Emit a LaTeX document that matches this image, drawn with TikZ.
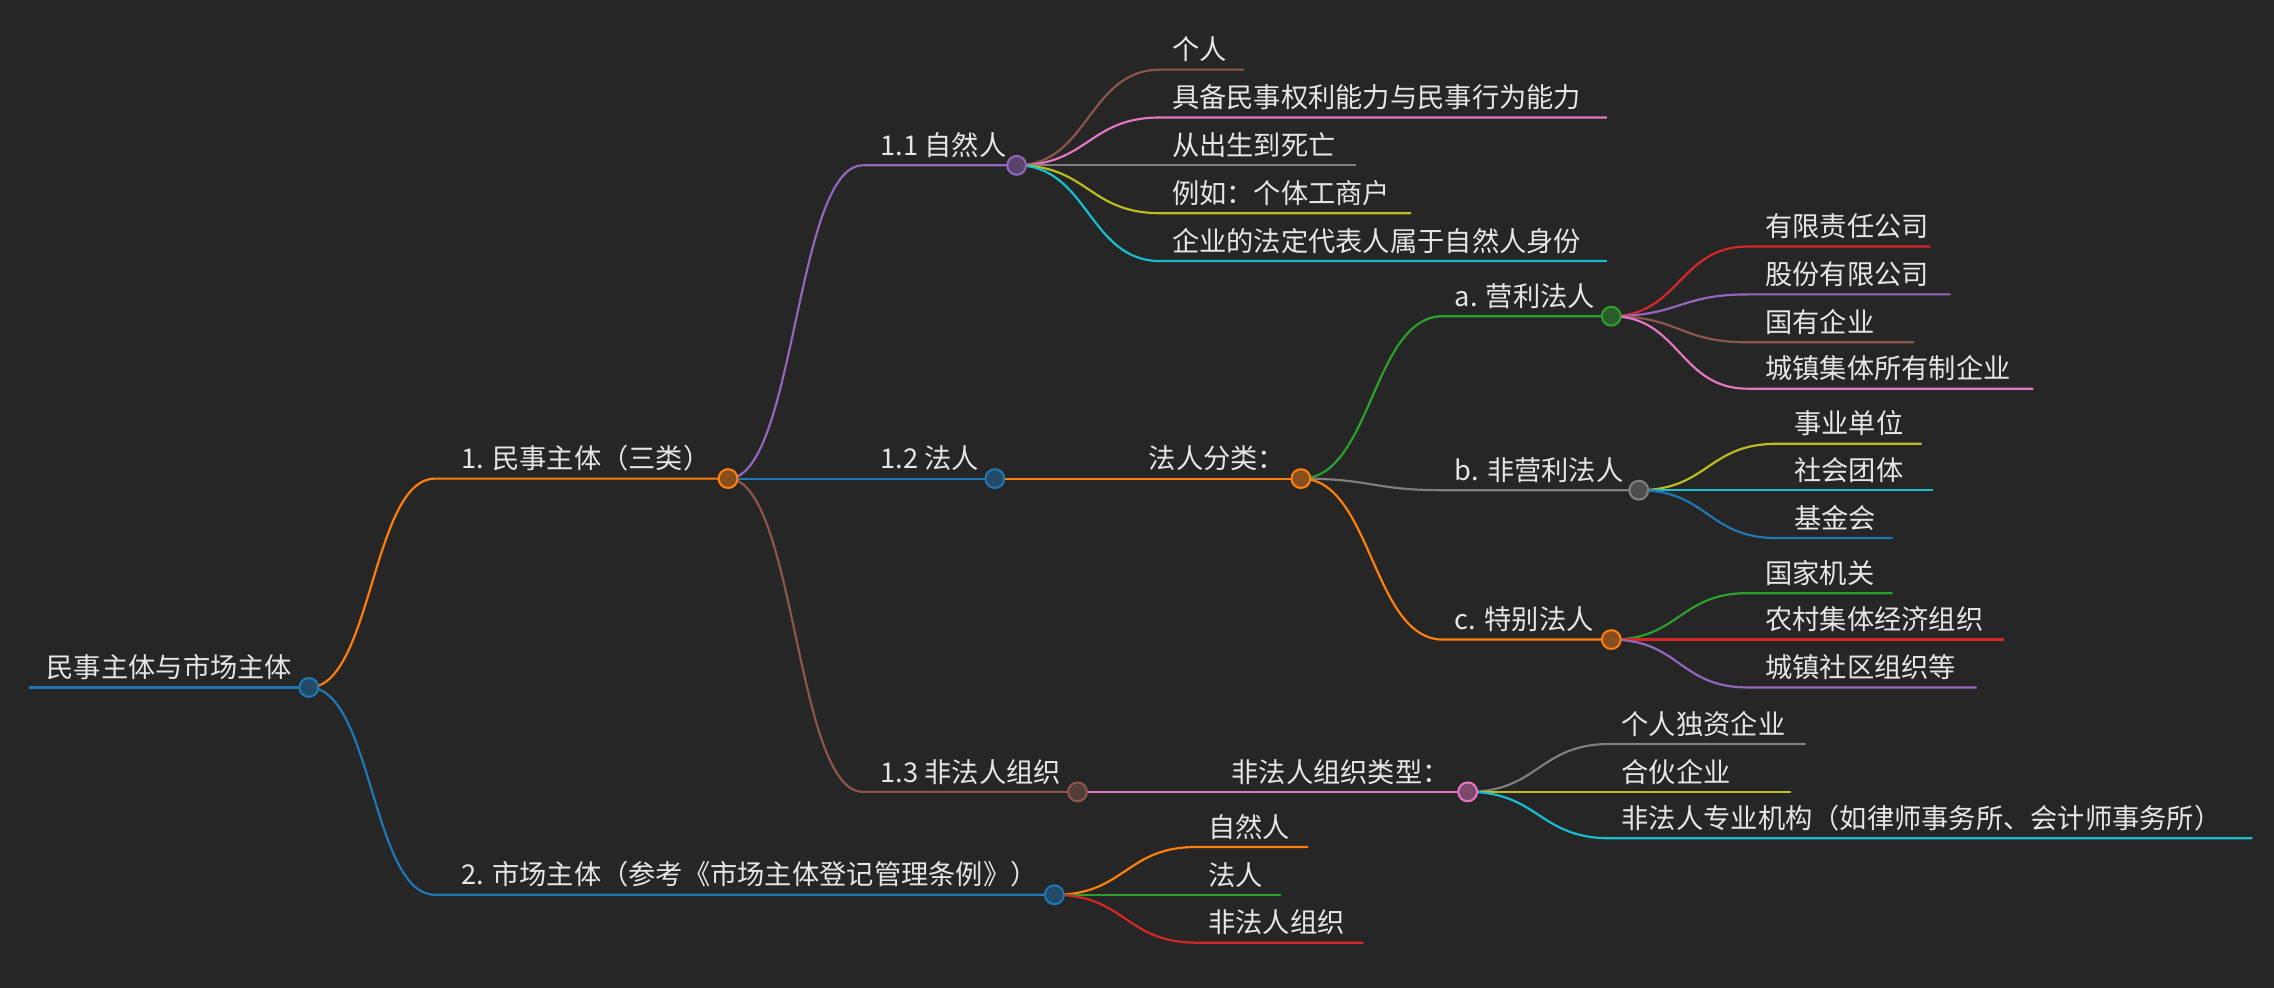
\documentclass[tikz,border=0pt]{standalone}
\usepackage{fontspec}
\setmainfont{Noto Sans CJK SC}
\definecolor{bg}{HTML}{262626}
\definecolor{cO}{HTML}{FF7F0E}\definecolor{cB}{HTML}{1F77B4}\definecolor{cP}{HTML}{9467BD}
\definecolor{cBr}{HTML}{8C564B}\definecolor{cPk}{HTML}{E377C2}\definecolor{cG}{HTML}{7F7F7F}
\definecolor{cY}{HTML}{BCBD22}\definecolor{cC}{HTML}{17BECF}\definecolor{cGr}{HTML}{2CA02C}
\definecolor{cR}{HTML}{D62728}\definecolor{txt}{HTML}{E6E6E6}
\tikzset{lbl/.style={anchor=south west,inner sep=0pt,yshift=5pt,text=txt,font=\fontsize{18.8}{18.8}\selectfont},
 dot/.style={circle,draw=#1,fill=#1!45!bg,line width=1.4pt,minimum size=13pt,inner sep=0pt},
 edge/.style={line width=1.5pt,draw=#1}}
\usetikzlibrary{calc}
% \br{name}{parent}{color}{xs}{y}{xe}{text}{textx}
\newcommand\br[8]{%
 \coordinate (#1s) at (#4,#5); \coordinate (#1e) at (#6,#5);
 \coordinate (#1m) at ($(#2)!0.5!(#1s)$);
 \draw[edge=#3] (#2) .. controls (#1m |- #2) and (#1m |- #1s) .. (#1s) -- (#1e);
 \node[lbl] (#1t) at (#8,#5) {#7};}
\newcommand\dt[2]{\node[dot=#2] at (#1e) {};}
\begin{document}
\begin{tikzpicture}[x=1pt,y=-1pt]
\fill[bg] (0,0) rectangle (1568,681);
\useasboundingbox (0,0) rectangle (1568,681);
\coordinate (root) at (213,474);
\draw[edge=cB] (20,474) -- (root);
\node[lbl] (roott) at (32,474) {民事主体与市场主体};
\br{a}{root}{cO}{300}{330}{502}{1. 民事主体（三类）}{318}
\br{m}{root}{cB}{300}{617}{727}{2. 市场主体（参考《市场主体登记管理条例》）}{318}
\br{n}{ae}{cP}{595}{114}{701}{1.1 自然人}{607}
\br{l}{ae}{cB}{595}{330}{686}{1.2 法人}{607}
\br{f}{ae}{cBr}{595}{546}{743}{1.3 非法人组织}{607}
\br{n1}{ne}{cBr}{800}{48}{858}{个人}{808}
\br{n2}{ne}{cPk}{800}{81}{1108}{具备民事权利能力与民事行为能力}{808}
\br{n3}{ne}{cG}{800}{114}{935}{从出生到死亡}{808}
\br{n4}{ne}{cY}{800}{147}{973}{例如：个体工商户}{808}
\br{n5}{ne}{cC}{800}{180}{1108}{企业的法定代表人属于自然人身份}{808}
\br{lc}{le}{cO}{780}{330}{897}{法人分类：}{792}
\br{pa}{lce}{cGr}{995}{218}{1111}{a. 营利法人}{1003}
\br{pb}{lce}{cG}{995}{338}{1130}{b. 非营利法人}{1003}
\br{pc}{lce}{cO}{995}{441}{1111}{c. 特别法人}{1003}
\br{a1}{pae}{cR}{1205}{170}{1331}{有限责任公司}{1217}
\br{a2}{pae}{cP}{1205}{203}{1345}{股份有限公司}{1217}
\br{a3}{pae}{cBr}{1205}{236}{1320}{国有企业}{1217}
\br{a4}{pae}{cPk}{1205}{268}{1402}{城镇集体所有制企业}{1217}
\br{b1}{pbe}{cY}{1225}{306}{1325}{事业单位}{1237}
\br{b2}{pbe}{cC}{1225}{338}{1333}{社会团体}{1237}
\br{b3}{pbe}{cB}{1225}{371}{1305}{基金会}{1237}
\br{c1}{pce}{cGr}{1205}{409}{1305}{国家机关}{1217}
\br{c2}{pce}{cR}{1205}{441}{1382}{农村集体经济组织}{1217}
\br{c3}{pce}{cP}{1205}{474}{1363}{城镇社区组织等}{1217}
\br{ft}{fe}{cPk}{840}{546}{1012}{非法人组织类型：}{849}
\br{f1}{fte}{cG}{1110}{513}{1245}{个人独资企业}{1118}
\br{f2}{fte}{cY}{1110}{546}{1235}{合伙企业}{1118}
\br{f3}{fte}{cC}{1110}{578}{1553}{非法人专业机构（如律师事务所、会计师事务所）}{1118}
\br{m1}{me}{cO}{825}{584}{902}{自然人}{833}
\br{m2}{me}{cGr}{825}{617}{883}{法人}{833}
\br{m3}{me}{cR}{825}{650}{940}{非法人组织}{833}
\node[dot=cB] at (root) {};
\dt{a}{cO}\dt{m}{cB}\dt{n}{cP}\dt{l}{cB}\dt{f}{cBr}\dt{lc}{cO}
\dt{pa}{cGr}\dt{pb}{cG}\dt{pc}{cO}\dt{ft}{cPk}
\end{tikzpicture}
\end{document}
